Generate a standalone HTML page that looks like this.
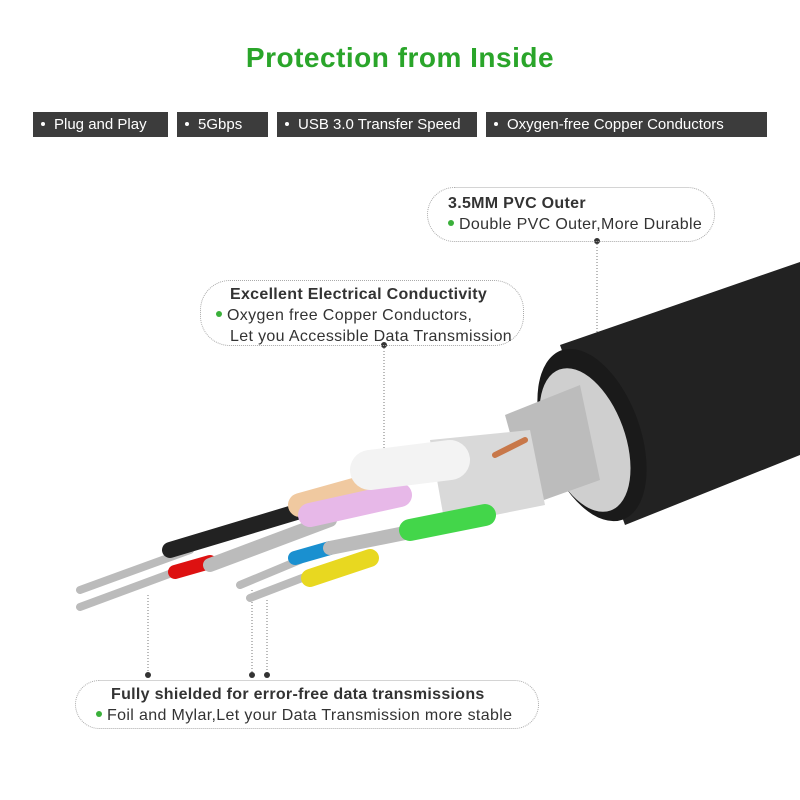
<!DOCTYPE html>
<html><head><style>
body{margin:0;width:800px;height:800px;background:#fff;position:relative;overflow:hidden;font-family:"Liberation Sans",sans-serif}
.t{position:absolute;top:42px;left:0;width:800px;text-align:center;color:#2aa52a;font-weight:bold;font-size:28px;letter-spacing:0.5px}
.tag{position:absolute;top:112px;height:25px;background:#3c3c3c;color:#fff;font-size:15px;line-height:26px;white-space:nowrap;padding-left:8px;box-sizing:border-box}
.tag b{display:inline-block;width:4px;height:4px;background:#fff;border-radius:50%;margin:0 9px 3px 0;vertical-align:middle}
.box{position:absolute;border:1px dotted #aaa;border-radius:30px;box-sizing:border-box;color:#333;font-size:16px;line-height:21px;letter-spacing:0.35px;white-space:nowrap}
.box .h{font-weight:bold;letter-spacing:0.3px}
.g{display:inline-block;width:6px;height:6px;background:#3ab03a;border-radius:50%;margin:0 5px 3px 0;vertical-align:middle}
</style></head><body>
<div class="t">Protection from Inside</div>
<div class="tag" style="left:33px;width:135px"><b></b>Plug and Play</div>
<div class="tag" style="left:177px;width:91px"><b></b>5Gbps</div>
<div class="tag" style="left:277px;width:200px"><b></b>USB 3.0 Transfer Speed</div>
<div class="tag" style="left:486px;width:281px"><b></b>Oxygen-free Copper Conductors</div>

<svg width="800" height="800" style="position:absolute;left:0;top:0">
<g stroke="#777" stroke-dasharray="1,2" fill="none">
<line x1="597" y1="241" x2="597" y2="338"/>
<line x1="384" y1="345" x2="384" y2="455"/>
<line x1="148" y1="595" x2="148" y2="675"/>
<line x1="252" y1="590" x2="252" y2="675"/>
<line x1="267" y1="600" x2="267" y2="675"/>
</g>
<g fill="#333"><circle cx="597" cy="241" r="3"/><circle cx="597" cy="338" r="3"/><circle cx="384" cy="345" r="3"/><circle cx="384" cy="455" r="3"/><circle cx="148" cy="675" r="3"/><circle cx="252" cy="675" r="3"/><circle cx="267" cy="675" r="3"/></g>
<path d="M560 345 L800 262 L800 455 L625 525 Z" fill="#222"/>
<ellipse cx="592" cy="435" rx="48" ry="90" transform="rotate(-20 592 435)" fill="#1a1a1a"/>
<ellipse cx="585" cy="440" rx="40" ry="75" transform="rotate(-20 585 440)" fill="#cfcfcf"/>
<path d="M505 415 L580 385 L600 480 L530 505 Z" fill="#bcbcbc"/>
<path d="M430 440 L530 430 L545 505 L445 525 Z" fill="#d9d9d9"/>
<g stroke-linecap="round">
<line x1="80" y1="590" x2="190" y2="550" stroke="#bbb" stroke-width="8"/>
<line x1="80" y1="607" x2="180" y2="570" stroke="#bbb" stroke-width="8"/>
<line x1="170" y1="550" x2="320" y2="505" stroke="#222" stroke-width="16"/>
<line x1="175" y1="572" x2="210" y2="562" stroke="#d11" stroke-width="14"/>
<line x1="210" y1="565" x2="330" y2="520" stroke="#bbb" stroke-width="14"/>
<line x1="300" y1="505" x2="390" y2="480" stroke="#f0c9a0" stroke-width="24"/>
<line x1="310" y1="515" x2="400" y2="495" stroke="#e7b8e8" stroke-width="24"/>
<line x1="370" y1="470" x2="450" y2="460" stroke="#f3f3f3" stroke-width="40"/>
<line x1="240" y1="585" x2="300" y2="560" stroke="#bbb" stroke-width="8"/>
<line x1="250" y1="598" x2="310" y2="575" stroke="#bbb" stroke-width="8"/>
<line x1="295" y1="558" x2="330" y2="548" stroke="#1a90d0" stroke-width="14"/>
<line x1="310" y1="578" x2="370" y2="558" stroke="#e8d820" stroke-width="18"/>
<line x1="330" y1="548" x2="420" y2="530" stroke="#bbb" stroke-width="14"/>
<line x1="410" y1="530" x2="485" y2="515" stroke="#43d64a" stroke-width="22"/>
<line x1="495" y1="455" x2="525" y2="440" stroke="#c8784a" stroke-width="6"/>
</g>
</svg>

<div class="box" style="left:427px;top:187px;width:288px;height:55px;padding:5px 0 0 20px"><div class="h">3.5MM PVC Outer</div><div><span class="g"></span>Double PVC Outer,More Durable</div></div>
<div class="box" style="left:200px;top:280px;width:324px;height:66px;padding:3px 0 0 15px"><div class="h" style="padding-left:14px">Excellent Electrical Conductivity</div><div><span class="g"></span>Oxygen free Copper Conductors,</div><div style="padding-left:14px">Let you Accessible Data Transmission</div></div>
<div class="box" style="left:75px;top:680px;width:464px;height:49px;padding:3px 0 0 20px"><div class="h" style="padding-left:15px">Fully shielded for error-free data transmissions</div><div><span class="g"></span>Foil and Mylar,Let your Data Transmission more stable</div></div>
</body></html>
